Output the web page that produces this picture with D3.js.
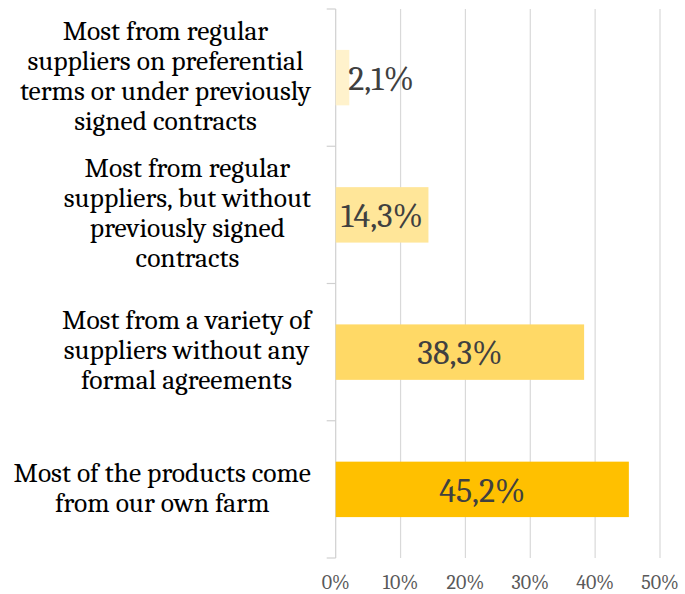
<!DOCTYPE html>
<html>
<head>
<meta charset="utf-8">
<script src="https://cdn.jsdelivr.net/npm/d3@7"></script>
<style>
  html, body { margin: 0; padding: 0; background: #ffffff; }
  svg { display: block; }
</style>
</head>
<body>
<svg id="chart" width="685" height="594"></svg>
<script>
// Sourcing of products: share of respondents per answer
const categories = [
  ["Most from regular", "suppliers on preferential", "terms or under previously", "signed contracts"],
  ["Most from regular", "suppliers, but without", "previously signed", "contracts"],
  ["Most from a variety of", "suppliers without any", "formal agreements"],
  ["Most of the products come", "from our own farm"]
];
const values = [2.1, 14.3, 38.3, 45.2];
const valueLabels = ["2,1%", "14,3%", "38,3%", "45,2%"];
const barColors = ["#FFF2CC", "#FFE699", "#FFD966", "#FFC000"];
const tickValues = [0, 10, 20, 30, 40, 50];
const tickLabels = ["0%", "10%", "20%", "30%", "40%", "50%"];

const FONT = "Cambria, 'Liberation Serif', 'DejaVu Serif', serif";
const svg = d3.select("#chart");

const plot = { left: 335.7, right: 660, top: 9, bottom: 558 };
const ids = categories.map((_, i) => i);

const x = d3.scaleLinear().domain([0, 50]).range([plot.left, plot.right]);
const y = d3.scaleBand().domain(ids).range([plot.top, plot.bottom])
  .paddingInner(0.596).paddingOuter(0.298);

// vertical gridlines
svg.append("g").selectAll("line").data(tickValues.slice(1)).join("line")
  .attr("x1", d => x(d)).attr("x2", d => x(d))
  .attr("y1", plot.top).attr("y2", plot.bottom)
  .attr("stroke", "#d9d9d9").attr("stroke-width", 1.2);

// category axis with boundary ticks
const step = y.step();
const bounds = d3.range(categories.length + 1).map(i => plot.top + i * step);
const axisG = svg.append("g");
axisG.append("line")
  .attr("x1", plot.left).attr("x2", plot.left)
  .attr("y1", plot.top).attr("y2", plot.bottom)
  .attr("stroke", "#d0d0d0").attr("stroke-width", 1.2);
axisG.selectAll("line.tick").data(bounds).join("line").attr("class", "tick")
  .attr("x1", plot.left - 9).attr("x2", plot.left)
  .attr("y1", d => d).attr("y2", d => d)
  .attr("stroke", "#d0d0d0").attr("stroke-width", 1.2);

// bars
svg.append("g").selectAll("rect").data(values).join("rect")
  .attr("x", x(0))
  .attr("y", (d, i) => y(i))
  .attr("width", d => x(d) - x(0))
  .attr("height", y.bandwidth())
  .attr("fill", (d, i) => barColors[i]);

// value labels: centred in the bar, or just after the bar end if too long
const vl = svg.append("g").selectAll("text").data(values).join("text")
  .attr("font-family", FONT).attr("font-size", 34).attr("fill", "#404040")
  .attr("y", (d, i) => y(i) + y.bandwidth() / 2)
  .attr("dy", "0.36em")
  .text((d, i) => valueLabels[i]);
vl.each(function (d) {
  const w = this.getComputedTextLength();
  const barW = x(d) - x(0);
  const t = d3.select(this);
  if (w + 4 <= barW) {
    t.attr("text-anchor", "middle").attr("x", (x(0) + x(d)) / 2);
  } else {
    t.attr("text-anchor", "start").attr("x", x(d) - 1);
  }
});

// category labels: block right-aligned to the axis, lines centred in the block
const labelRight = 311;
const lineH = 30;
const catG = svg.append("g");
categories.forEach((lines, i) => {
  const cy = y(i) + y.bandwidth() / 2;
  const g = catG.append("g");
  const texts = g.selectAll("text").data(lines).join("text")
    .attr("font-family", FONT).attr("font-size", 27.5).attr("fill", "#000000")
    .attr("text-anchor", "middle")
    .attr("y", (d, j) => cy + (j - (lines.length - 1) / 2) * lineH)
    .attr("dy", "0.26em")
    .text(d => d);
  let maxW = 0;
  texts.each(function () { maxW = Math.max(maxW, this.getComputedTextLength()); });
  texts.attr("x", labelRight - maxW / 2);
});

// value axis labels
svg.append("g").selectAll("text").data(tickValues).join("text")
  .attr("font-family", FONT).attr("font-size", 20).attr("fill", "#595959")
  .attr("text-anchor", "middle")
  .attr("x", d => x(d)).attr("y", 589)
  .text((d, i) => tickLabels[i]);
</script>
</body>
</html>
